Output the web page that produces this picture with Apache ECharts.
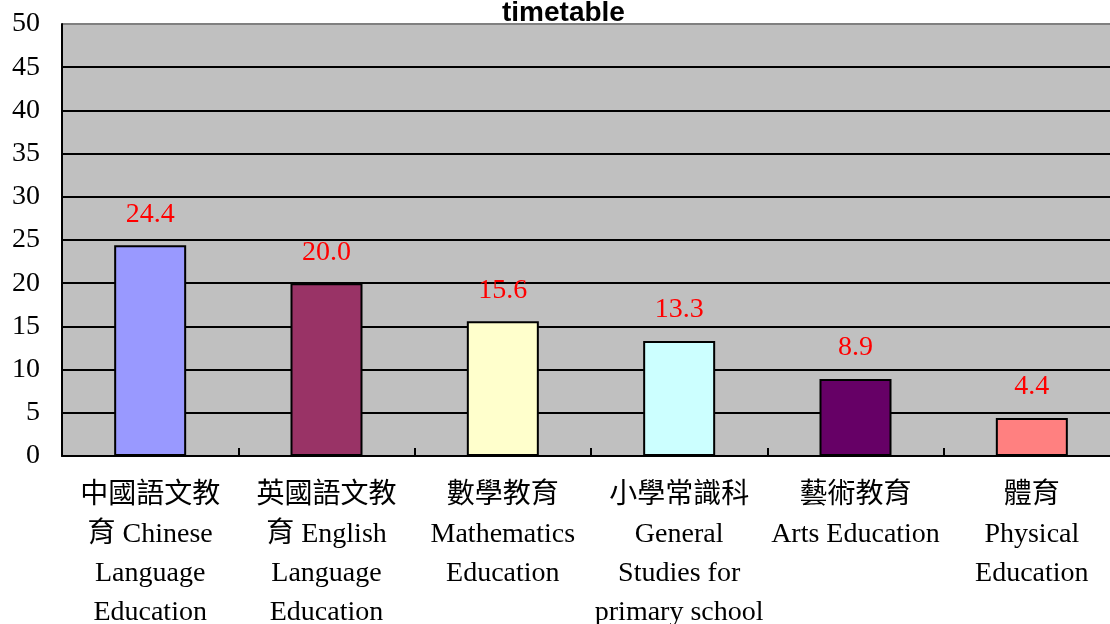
<!DOCTYPE html>
<html><head><meta charset="utf-8">
<script src="https://cdn.jsdelivr.net/npm/echarts@6/dist/echarts.min.js"></script>
<style>html,body{margin:0;padding:0;background:#fff;overflow:hidden}#c{width:1110px;height:624px}</style>
</head><body><div id="c"></div>
<script>
const categories = [
  "中國語文教\n育 Chinese\nLanguage\nEducation",
  "英國語文教\n育 English\nLanguage\nEducation",
  "數學教育\nMathematics\nEducation",
  "小學常識科\nGeneral\nStudies for\nprimary school",
  "藝術教育\nArts Education",
  "體育\nPhysical\nEducation"
];
const values = [24.4, 20.0, 15.6, 13.3, 8.9, 4.4];
const barColors = ["#9999FF", "#993366", "#FFFFCC", "#CCFFFF", "#660066", "#FF8080"];
const yTicks = [0, 5, 10, 15, 20, 25, 30, 35, 40, 45, 50];

const serif = "'Liberation Serif','Noto Sans CJK TC',serif";
const gridLineColors = yTicks.map((t, i) => i === yTicks.length - 1 ? '#808080' : '#000');
const chart = echarts.init(document.getElementById('c'));
chart.setOption({
  animation: false,
  title: {
    text: 'timetable', left: 497, top: -6,
    textStyle: {fontFamily: "'Liberation Sans',Arial,sans-serif", fontWeight: 'bold', fontSize: 28, color: '#000'}
  },
  grid: {left: 62, top: 24, right: -10, bottom: 168, outerBoundsMode: 'none', containLabel: false,
    show: true, backgroundColor: '#C0C0C0', borderWidth: 0},
  xAxis: {
    type: 'category', data: categories,
    axisLine: {lineStyle: {color: '#000', width: 2}},
    axisTick: {show: true, inside: true, length: 8, lineStyle: {color: '#000', width: 2}},
    axisLabel: {interval: 0, margin: 20, color: '#000', fontFamily: serif, fontSize: 28, lineHeight: 39}
  },
  yAxis: {
    type: 'value', min: yTicks[0], max: yTicks[yTicks.length - 1], interval: 5,
    axisLine: {show: true, lineStyle: {color: '#000', width: 2}},
    axisTick: {show: false},
    axisLabel: {margin: 22, color: '#000', fontFamily: serif, fontSize: 28},
    splitLine: {show: true, lineStyle: {color: gridLineColors, width: 2}}
  },
  series: [{
    type: 'bar', barWidth: 72,
    data: values.map((v, i) => ({value: v, itemStyle: {color: barColors[i]}})),
    itemStyle: {borderColor: '#000', borderWidth: 2},
    label: {show: true, position: 'top', distance: 17, color: '#FF0000', fontFamily: serif, fontSize: 28,
      formatter: p => p.value.toFixed(1)}
  }]
});
</script></body></html>
